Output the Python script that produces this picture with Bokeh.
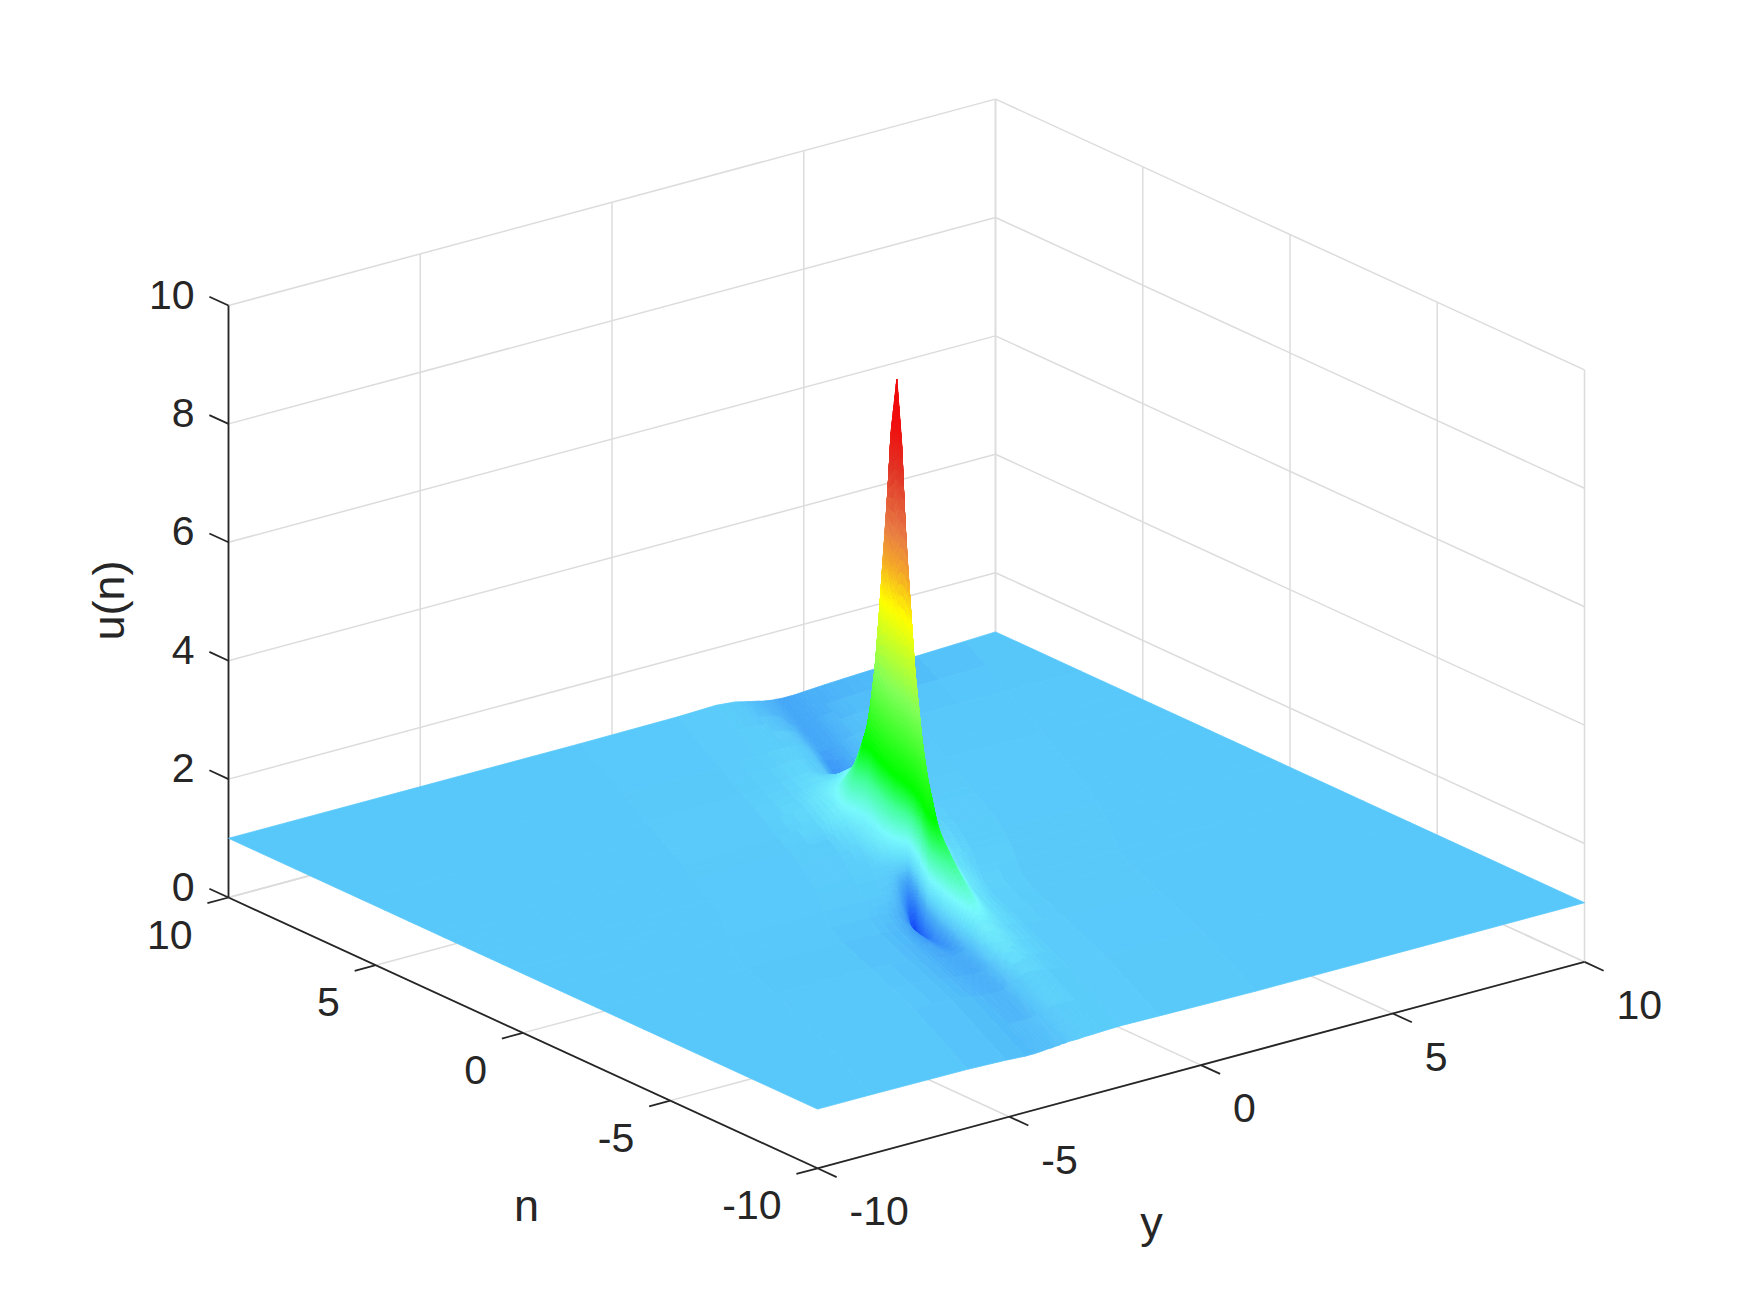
from bokeh.plotting import figure
from bokeh.models import Range1d
from bokeh.embed import file_html
from bokeh.resources import INLINE
from bokeh.core.properties import value
import math

# ---- values ----------------------------------------------------------------
N_TICKS = [10, 5, 0, -5, -10]
Y_TICKS = [-10, -5, 0, 5, 10]
Z_TICKS = [0, 2, 4, 6, 8, 10]

# Heights are read on a grid that follows the slanted ridge:
# y = RIDGE_Y + RIDGE_SLOPE * (n - RIDGE_N) + ROW_SHIFT + w, and the outer edges y = -10, +10.
RIDGE_N, RIDGE_Y, RIDGE_SLOPE = 1.5, 0.9, 0.39
EDGE_LEVEL = 1.0
W_COLS = [-5, -2.5, -1.5, -1, -.75, -.55, -.4, -.3, -.2, -.12, -.06, 0, .06, .12, .2, .3, .4, .55, .75, 1, 1.5, 2.5, 5]
N_ROWS = [-10, -6.5, -4.1, -2.5, -1.7, -.9, -.1, .3, .7, 1.1, 1.5, 1.9, 2.3, 2.7, 3.1, 3.9, 4.7, 5.5, 7.1, 10]
ROW_SHIFT = [0, -.1, -.3, -.45, -.45, -.3, -.15, -.1, -.05, -.02, 0, 0, 0, 0, 0, 0, 0, 0, 0, 0]

U00 = [1.00,.99,.97,.95,.95,.96,.97,.97,.98,.98,.99,.99,.99,1.00,1.00,1.00,1.00,1.01,1.01,1.02,1.03,1.02,1.00]
U01 = [1.00,1.00,.97,.93,.91,.90,.89,.89,.90,.91,.93,.95,.97,.99,1.01,1.05,1.07,1.08,1.07,1.05,1.02,1.01,1.00]
U02 = [1.00,.99,.95,.90,.87,.85,.84,.84,.85,.86,.88,.92,.98,1.05,1.18,1.28,1.30,1.27,1.20,1.12,1.05,1.01,1.00]
U03 = [1.00,.99,.97,.92,.86,.79,.72,.66,.62,.63,.70,.87,1.08,1.35,1.65,1.85,1.85,1.65,1.40,1.20,1.06,1.02,1.00]
U04 = [1.00,1.00,.99,.96,.90,.80,.62,.47,.33,.30,.47,.83,1.35,2.00,2.25,2.20,2.05,1.80,1.50,1.25,1.08,1.02,1.00]
U05 = [1.00,1.01,1.01,1.01,.98,.89,.70,.46,.12,.10,.70,1.30,1.95,2.60,2.75,2.45,2.05,1.65,1.35,1.18,1.06,1.02,1.00]
U06 = [1.00,1.01,1.02,1.03,1.03,1.00,.92,.85,.75,1.00,1.70,2.50,3.42,3.70,3.17,2.40,1.95,1.60,1.30,1.15,1.05,1.02,1.00]
U07 = [1.00,1.01,1.03,1.05,1.06,1.07,1.15,1.25,1.50,2.00,2.70,3.60,4.60,4.20,3.40,2.45,1.90,1.50,1.25,1.12,1.05,1.02,1.00]
U08 = [1.00,1.01,1.03,1.06,1.12,1.25,1.45,1.70,2.20,2.90,3.80,5.61,5.60,5.00,3.57,2.34,1.77,1.39,1.20,1.11,1.04,1.01,1.00]
U09 = [1.00,1.01,1.03,1.08,1.20,1.40,1.65,2.00,2.80,3.90,5.65,7.79,6.70,5.48,3.40,2.18,1.66,1.34,1.18,1.10,1.04,1.01,1.00]
U10 = [1.00,1.01,1.04,1.12,1.25,1.45,1.80,2.30,3.20,4.86,7.29,8.80,7.29,4.86,2.90,1.92,1.52,1.28,1.15,1.08,1.04,1.01,1.00]
U11 = [1.00,1.01,1.05,1.15,1.28,1.50,1.90,2.40,3.40,5.48,7.00,7.79,5.65,3.56,2.21,1.61,1.37,1.21,1.12,1.07,1.03,1.01,1.00]
U12 = [1.00,1.01,1.05,1.20,1.40,1.65,1.95,2.34,3.57,4.85,5.50,5.61,3.56,2.13,1.48,1.27,1.20,1.14,1.09,1.06,1.03,1.01,1.00]
U13 = [1.00,1.02,1.10,1.30,1.60,2.00,2.35,2.60,3.00,3.55,3.90,3.60,1.93,1.05,.87,.97,1.04,1.07,1.06,1.05,1.03,1.01,1.00]
U14 = [1.00,1.02,1.10,1.30,1.55,1.80,2.00,2.15,2.40,2.60,2.80,2.26,1.00,.60,.62,.80,.92,1.00,1.03,1.03,1.02,1.01,1.00]
U15 = [1.00,1.03,1.12,1.25,1.33,1.40,1.44,1.50,1.58,1.62,1.50,1.05,.62,.50,.50,.62,.78,.90,.98,1.01,1.01,1.01,1.00]
U16 = [1.00,1.03,1.08,1.15,1.18,1.18,1.20,1.22,1.25,1.15,1.00,.87,.70,.62,.62,.68,.76,.86,.94,.98,1.01,1.01,1.00]
U17 = [1.00,1.02,1.06,1.10,1.10,1.05,1.02,.98,.92,.85,.82,.78,.71,.67,.66,.68,.74,.83,.92,.97,1.00,1.00,1.00]
U18 = [1.00,1.01,1.03,1.05,1.05,1.04,1.02,1.00,.97,.93,.91,.88,.85,.82,.81,.81,.83,.86,.91,.95,.99,1.00,1.00]
U19 = [1.00,1.01,1.03,1.00,.96,.93,.91,.89,.88,.87,.865,.86,.86,.855,.85,.85,.85,.85,.86,.87,.89,.92,.98]
U_ROWS = [U00, U01, U02, U03, U04, U05, U06, U07, U08, U09, U10, U11, U12, U13, U14, U15, U16, U17, U18, U19]

# colours seen at each height
CMAP_Z = [0, .5, .85, 1, 1.15, 1.4, 1.8, 2.3, 3.6, 4.9, 5.6, 6.2, 7.2, 8.0, 8.8]
CMAP_R = [5, 40, 70, 88, 100, 120, 70, 0, 130, 255, 245, 232, 225, 240, 240]
CMAP_G = [40, 116, 170, 200, 222, 250, 255, 255, 255, 255, 170, 125, 55, 15, 10]
CMAP_B = [245, 250, 248, 250, 251, 252, 160, 0, 90, 0, 40, 70, 40, 15, 10]

# ---- orthographic projection into page pixels ------------------------------
ORIGIN_X, ORIGIN_Y = 228.0, 897.0     # n=10, y=-10, z=0
NX, NY = 29.45, 13.54                 # one unit of -n
YX, YY = 38.35, -10.32                # one unit of +y
ZY = -59.2                            # one unit of +z

def proj(n, y, z):
    return (ORIGIN_X + (10 - n) * NX + (y + 10) * YX,
            ORIGIN_Y + (10 - n) * NY + (y + 10) * YY + z * ZY)

def color(z):
    z = max(CMAP_Z[0], min(CMAP_Z[-1], z))
    for i in range(len(CMAP_Z) - 1):
        if z <= CMAP_Z[i + 1]:
            t = (z - CMAP_Z[i]) / (CMAP_Z[i + 1] - CMAP_Z[i])
            r = CMAP_R[i] + t * (CMAP_R[i + 1] - CMAP_R[i])
            g = CMAP_G[i] + t * (CMAP_G[i + 1] - CMAP_G[i])
            b = CMAP_B[i] + t * (CMAP_B[i + 1] - CMAP_B[i])
            return "#%02x%02x%02x" % (round(r), round(g), round(b))
    return "#f00a0a"

p = figure(width=1734, height=1297, x_range=Range1d(0, 1734), y_range=Range1d(1297, 0),
           x_axis_type=None, y_axis_type=None, output_backend="svg", toolbar_location=None,
           min_border=0, outline_line_color=None, background_fill_color="white")
p.grid.visible = False

GRID = "#dcdcdc"
AXIS = "#262626"

def seg(a, b, col, w):
    p.line([a[0], b[0]], [a[1], b[1]], line_color=col, line_width=w)

# walls and floor grid
for yt in Y_TICKS:
    seg(proj(10, yt, 0), proj(10, yt, 10), GRID, 1.5)
    seg(proj(10, yt, 0), proj(-10, yt, 0), GRID, 1.5)
for nt in N_TICKS:
    seg(proj(nt, 10, 0), proj(nt, 10, 10), GRID, 1.5)
    seg(proj(nt, -10, 0), proj(nt, 10, 0), GRID, 1.5)
for zt in Z_TICKS:
    seg(proj(10, -10, zt), proj(10, 10, zt), GRID, 1.5)
    seg(proj(10, 10, zt), proj(-10, 10, zt), GRID, 1.5)

# axis lines and ticks
seg(proj(10, -10, 0), proj(10, -10, 10), AXIS, 1.8)
seg(proj(10, -10, 0), proj(-10, -10, 0), AXIS, 1.8)
seg(proj(-10, -10, 0), proj(-10, 10, 0), AXIS, 1.8)
for zt in Z_TICKS:
    seg(proj(10, -10, zt), proj(10.65, -10, zt), AXIS, 1.8)
for nt in N_TICKS:
    seg(proj(nt, -10, 0), proj(nt, -10.55, 0), AXIS, 1.8)
for yt in Y_TICKS:
    seg(proj(-10, yt, 0), proj(-10.65, yt, 0), AXIS, 1.8)

# surface, far cells first
rows = len(N_ROWS)
cols = len(W_COLS) + 2

def vertex(i, j):
    n = N_ROWS[i]
    if j == 0:
        return n, -10.0, EDGE_LEVEL
    if j == cols - 1:
        return n, 10.0, EDGE_LEVEL
    return n, RIDGE_Y + RIDGE_SLOPE * (n - RIDGE_N) + ROW_SHIFT[i] + W_COLS[j - 1], U_ROWS[i][j - 1]

xs, ys, fills = [], [], []
for i in range(rows - 2, -1, -1):
    for j in range(cols - 2, -1, -1):
        a, b, c, d = vertex(i, j), vertex(i + 1, j), vertex(i + 1, j + 1), vertex(i, j + 1)
        zs = [a[2], b[2], c[2], d[2]]
        k = max(1, min(10, math.ceil((max(zs) - min(zs)) / 0.05)))
        def at(s, t):
            return tuple((1 - s) * (1 - t) * a[m] + s * (1 - t) * b[m] + s * t * c[m] + (1 - s) * t * d[m] for m in range(3))
        for si in range(k - 1, -1, -1):
            for ti in range(k - 1, -1, -1):
                s0, s1, t0, t1 = si / k, (si + 1) / k, ti / k, (ti + 1) / k
                q = [at(s0, t0), at(s1, t0), at(s1, t1), at(s0, t1)]
                pts = [proj(*v) for v in q]
                xs.append([v[0] for v in pts])
                ys.append([v[1] for v in pts])
                fills.append(color(sum(v[2] for v in q) / 4))
p.patches(xs, ys, fill_color=fills, line_color=fills, line_width=0.8)

# tick labels
FONT = value("Liberation Sans")
INK = "#262626"
LABEL_SIZE = "41px"

for zt in Z_TICKS:
    px, py = proj(10, -10, zt)
    p.text([px - 34], [py - 11], text=[str(zt)], text_align="right", text_baseline="middle",
           text_font=FONT, text_font_size=LABEL_SIZE, text_color=INK)
for nt in N_TICKS:
    px, py = proj(nt, -10, 0)
    p.text([px - 36], [py + 37], text=[str(nt)], text_align="right", text_baseline="middle",
           text_font=FONT, text_font_size=LABEL_SIZE, text_color=INK)
for yt in Y_TICKS:
    px, py = proj(-10, yt, 0)
    p.text([px + 32], [py + 43], text=[str(yt)], text_align="left", text_baseline="middle",
           text_font=FONT, text_font_size=LABEL_SIZE, text_color=INK)

# axis titles
p.text([108], [600], text=["u(n)"], angle=[math.pi / 2], text_align="center", text_baseline="middle",
       text_font=FONT, text_font_size="45px", text_color=INK)
p.text([526], [1205], text=["n"], text_align="center", text_baseline="middle",
       text_font=FONT, text_font_size="45px", text_color=INK)
p.text([1151], [1222], text=["y"], text_align="center", text_baseline="middle",
       text_font=FONT, text_font_size="45px", text_color=INK)

open("out.html", "w").write(file_html(p, INLINE))
